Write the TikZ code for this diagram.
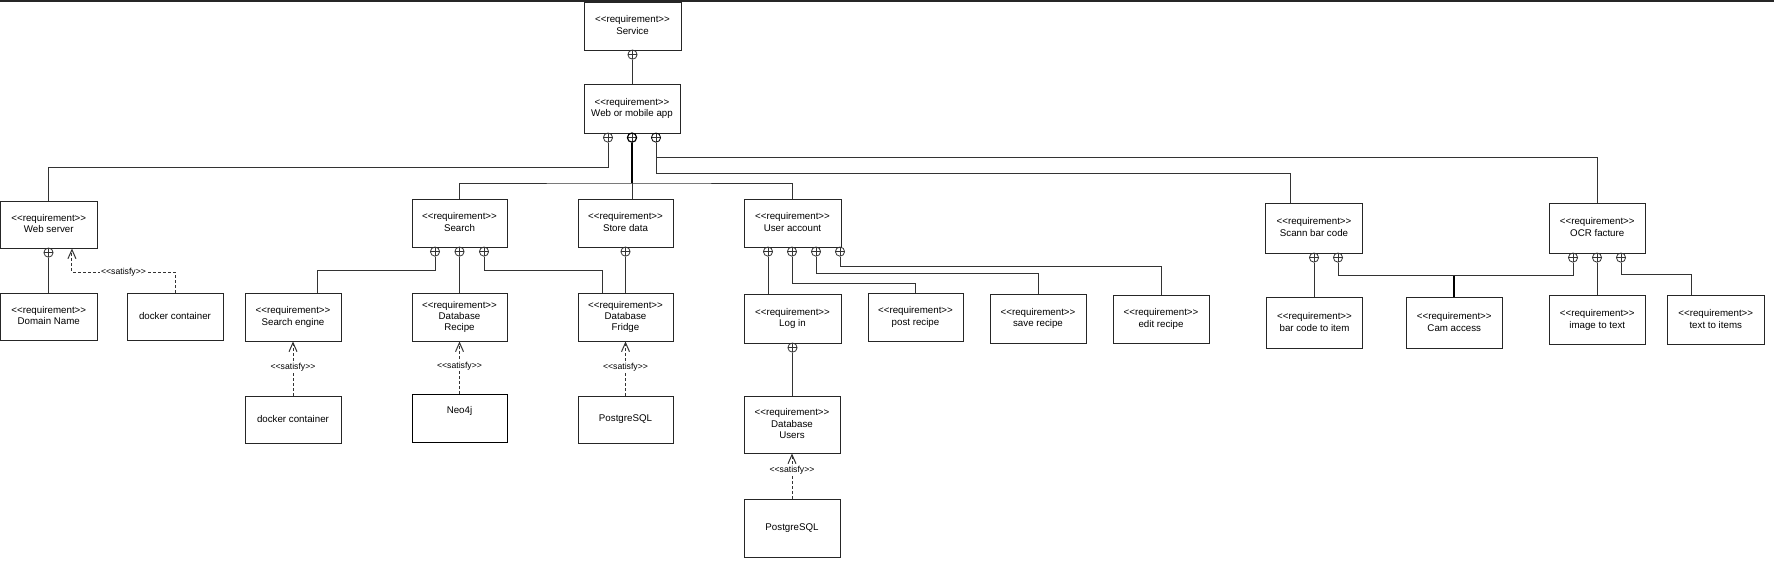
\documentclass[tikz,border=0pt]{standalone}
\usepackage{fontspec}
\setmainfont{Liberation Sans}
\usetikzlibrary{arrows.meta,fit}
\newcommand\reqtxt{<\kern0pt<requirement>\kern0pt>}
\newcommand\sattxt{<\kern0pt<satisfy>\kern0pt>}
\begin{document}
\begin{tikzpicture}[x=0.75pt,y=-0.75pt,
 box/.style={draw=black!85, line width=0.75pt, rectangle, inner sep=0pt},
 txt/.style={align=center, inner sep=0pt, font=\fontsize{7.3pt}{8.6pt}\selectfont, execute at end node={\vphantom{g}}},
 contain/.style={circle, draw=black!80, line width=0.6pt, minimum size=6.9pt, inner sep=0pt,
   path picture={\draw[line width=0.6pt, black!80] (path picture bounding box.north) -- (path picture bounding box.south) (path picture bounding box.west) -- (path picture bounding box.east);}},
 conn/.style={draw=black!80, line width=0.75pt},
 boldconn/.style={draw=black, line width=1.2pt},
 sat/.style={draw=black!80, line width=0.75pt, dash pattern=on 2.25pt off 1.5pt, -{Straight Barb[length=6.75pt, width=6pt]}},
 lab/.style={fill=white, inner sep=0.5pt, font=\fontsize{6.5pt}{8pt}\selectfont},
]
\useasboundingbox (0,0) rectangle (1774,568);
\fill[black!85] (0,0) rectangle (1774,2.2);

% boxes
\node[box, fit={(584,2) (681,50)}, label={[txt]center:{\reqtxt\\Service}}] (service) {};
\node[box, fit={(584,84) (680,133)}, label={[txt]center:{\reqtxt\\Web or mobile app}}] (web) {};
\node[box, fit={(0.5,201) (97,248)}, label={[txt]center:{\reqtxt\\Web server}}] (webserver) {};
\node[box, fit={(0.5,293) (97,340)}, label={[txt]center:{\reqtxt\\Domain Name}}] (domain) {};
\node[box, fit={(127,293) (223,340)}, label={[txt]center:{docker container}}] (docker1) {};
\node[box, fit={(412,199) (507,247)}, label={[txt]center:{\reqtxt\\Search}}] (search) {};
\node[box, fit={(578,199) (673,247)}, label={[txt]center:{\reqtxt\\Store data}}] (store) {};
\node[box, fit={(744,199) (841,247)}, label={[txt]center:{\reqtxt\\User account}}] (user) {};
\node[box, fit={(245,293) (341,341)}, label={[txt]center:{\reqtxt\\Search engine}}] (searchengine) {};
\node[box, fit={(412,293) (507,341)}, label={[txt]center:{\reqtxt\\Database\\Recipe}}] (dbrecipe) {};
\node[box, fit={(578,293) (673,341)}, label={[txt]center:{\reqtxt\\Database\\Fridge}}] (dbfridge) {};
\node[box, fit={(245,396) (341,443)}, label={[txt]center:{docker container}}] (docker2) {};
\node[box, draw=black, fit={(412,394) (507,442)}, label={[txt, yshift=5.5pt]center:{Neo4j}}] (neo) {};
\node[box, fit={(578,396) (673,443)}, label={[txt]center:{PostgreSQL}}] (pg1) {};
\node[box, fit={(744,294) (841,343)}, label={[txt]center:{\reqtxt\\Log in}}] (login) {};
\node[box, fit={(868,293) (963,341)}, label={[txt]center:{\reqtxt\\post recipe}}] (post) {};
\node[box, fit={(990,294) (1086,343)}, label={[txt]center:{\reqtxt\\save recipe}}] (save) {};
\node[box, fit={(1113,295) (1209,343)}, label={[txt]center:{\reqtxt\\edit recipe}}] (edit) {};
\node[box, fit={(744,396) (840,453)}, label={[txt]center:{\reqtxt\\Database\\Users}}] (dbusers) {};
\node[box, fit={(744,499) (840,557)}, label={[txt]center:{PostgreSQL}}] (pg2) {};
\node[box, fit={(1265.5,203) (1362.5,253)}, label={[txt]center:{\reqtxt\\Scann bar code}}] (scann) {};
\node[box, fit={(1549,203) (1645.5,253)}, label={[txt]center:{\reqtxt\\OCR facture}}] (ocr) {};
\node[box, fit={(1266.5,297.5) (1362.5,348)}, label={[txt]center:{\reqtxt\\bar code to item}}] (barcode) {};
\node[box, fit={(1406,297.5) (1502.5,348)}, label={[txt]center:{\reqtxt\\Cam access}}] (cam) {};
\node[box, fit={(1549,295.5) (1645.5,344.5)}, label={[txt]center:{\reqtxt\\image to text}}] (img) {};
\node[box, fit={(1667.5,295.5) (1764,344.5)}, label={[txt]center:{\reqtxt\\text to items}}] (textitems) {};

% containment circles
\node[contain] (cSv) at (632.5,54.6) {};
\node[contain] (cW1) at (608,137.6) {};
\node[contain, draw=black, line width=0.9pt] (cW2) at (632,137.6) {};
\node[contain, draw=black] (cW3) at (656,137.6) {};
\node[contain] (cWs) at (48.5,252.6) {};
\node[contain] (cS1) at (435,251.6) {};
\node[contain] (cS2) at (459.5,251.6) {};
\node[contain] (cS3) at (484,251.6) {};
\node[contain] (cSt) at (625.5,251.6) {};
\node[contain] (cU1) at (768,251.6) {};
\node[contain] (cU2) at (792,251.6) {};
\node[contain] (cU3) at (816,251.6) {};
\node[contain] (cU4) at (840,251.6) {};
\node[contain] (cL) at (792.5,347.6) {};
\node[contain] (cSc1) at (1314,257.6) {};
\node[contain] (cSc2) at (1338,257.6) {};
\node[contain] (cO1) at (1573,257.6) {};
\node[contain] (cO2) at (1597,257.6) {};
\node[contain] (cO3) at (1621,257.6) {};

% bus levels and entry points
\coordinate (yWs) at (0,167);
\coordinate (yMid) at (0,183);
\coordinate (yScann) at (0,173);
\coordinate (yOcr) at (0,157.7);
\coordinate (ySat1) at (0,272);
\coordinate (ySe) at (0,270);
\coordinate (yPost) at (0,283);
\coordinate (ySave) at (0,273);
\coordinate (yEdit) at (0,266);
\coordinate (yCam) at (0,275.6);
\coordinate (yTi) at (0,274);
\coordinate (wsIn) at ([xshift=17.4pt]webserver.south);
\coordinate (seIn) at ([xshift=18pt]searchengine.north);
\coordinate (dfIn) at ([xshift=-17.6pt]dbfridge.north);
\coordinate (scIn) at ([xshift=-18pt]scann.north);
\coordinate (tiIn) at ([xshift=-18.2pt]textitems.north);

% connectors
\draw[conn] (cSv.south) -- (cSv |- web.north);
\draw[conn] (cW1.south) |- (webserver.north |- yWs) -- (webserver.north);
\draw[boldconn] (cW2.south) -- (cW2 |- yMid);
\draw[conn] (search.north) |- (cW2 |- yMid) -| (user.north);
\draw[conn] (cW2 |- yMid) -- (cW2 |- store.north);
\draw[conn] (cW3.south) |- (scIn |- yScann) -- (scIn);
\draw[conn] (cW3.south) |- (ocr.north |- yOcr) -- (ocr.north);

\draw[conn] (cWs.south) -- (cWs |- domain.north);
\draw[sat] (docker1.north) -- (docker1.north |- ySat1) -- node[lab]{\sattxt} (wsIn |- ySat1) -- (wsIn);

\draw[conn] (cS1.south) |- (seIn |- ySe) -- (seIn);
\draw[conn] (cS2.south) -- (cS2 |- dbrecipe.north);
\draw[conn] (cS3.south) |- (dfIn |- ySe) -- (dfIn);
\draw[conn] (cSt.south) -- (cSt |- dbfridge.north);
\draw[sat] (docker2.north) -- node[lab,pos=0.53]{\sattxt} (docker2.north |- searchengine.south);
\draw[sat] (neo.north) -- node[lab,pos=0.53]{\sattxt} (neo.north |- dbrecipe.south);
\draw[sat] (pg1.north) -- node[lab,pos=0.53]{\sattxt} (pg1.north |- dbfridge.south);

\draw[conn] (cU1.south) -- (cU1 |- login.north);
\draw[conn] (cU2.south) |- (post.north |- yPost) -- (post.north);
\draw[conn] (cU3.south) |- (save.north |- ySave) -- (save.north);
\draw[conn] (cU4.south) |- (edit.north |- yEdit) -- (edit.north);
\draw[conn] (cL.south) -- (cL |- dbusers.north);
\draw[sat] (pg2.north) -- node[lab,pos=0.63]{\sattxt} (pg2.north |- dbusers.south);

\draw[conn] (cSc1.south) -- (cSc1 |- barcode.north);
\draw[conn] (cSc2.south) |- (cO1 |- yCam) -- (cO1.south);
\draw[boldconn] (cam.north |- yCam) -- (cam.north);
\draw[conn] (cO2.south) -- (cO2 |- img.north);
\draw[conn] (cO3.south) |- (tiIn |- yTi) -- (tiIn);
\end{tikzpicture}
\end{document}
